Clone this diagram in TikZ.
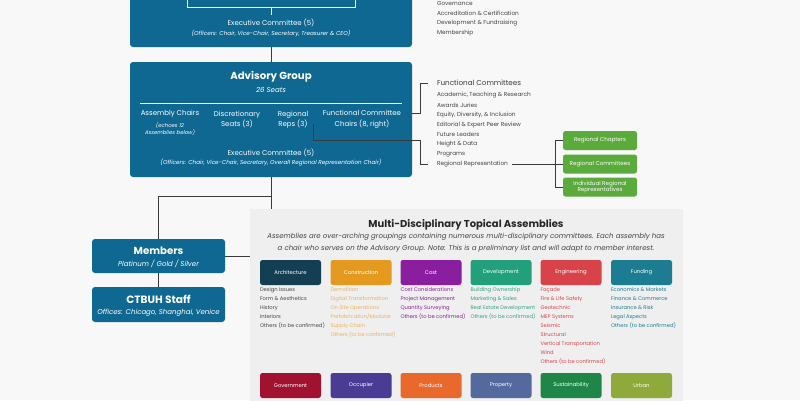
\documentclass[tikz,border=0pt]{standalone}
\usepackage{fontspec}
\setmainfont{Poppins}
\definecolor{bgc}{HTML}{F8F8F8}
\definecolor{panelc}{HTML}{EFEFEF}
\definecolor{ctblue}{HTML}{0E6891}
\definecolor{linec}{HTML}{3A3A3A}
\definecolor{txtc}{HTML}{444444}
\definecolor{greenc}{HTML}{5BAA3C}
\definecolor{archc}{HTML}{143F52}
\definecolor{archt}{HTML}{444444}
\definecolor{constrc}{HTML}{E49A1E}
\definecolor{constrt}{HTML}{EBB25A}
\definecolor{costc}{HTML}{8B1E9E}
\definecolor{costt}{HTML}{8B1E9E}
\definecolor{develc}{HTML}{21A07B}
\definecolor{develt}{HTML}{2FA384}
\definecolor{enginc}{HTML}{D8434A}
\definecolor{engint}{HTML}{D8434A}
\definecolor{fundc}{HTML}{1C7C91}
\definecolor{fundt}{HTML}{1C7C91}
\definecolor{govc}{HTML}{A0122F}
\definecolor{occc}{HTML}{4A3C94}
\definecolor{prodc}{HTML}{E8692B}
\definecolor{propc}{HTML}{546A9E}
\definecolor{sustc}{HTML}{1E8748}
\definecolor{urbc}{HTML}{8FAA3B}
\newcommand\fsz[2]{\fontsize{#1}{#2}\selectfont}
\tikzset{
  bluebox/.style={fill=ctblue, rounded corners=3pt, draw=none},
  greenbox/.style={fill=greenc, rounded corners=2.5pt, minimum width=74pt, minimum height=19pt, text=white, font=\fsz{5.6}{6.6}, align=center},
  conn/.style={draw=linec, line width=0.8pt},
  wconn/.style={draw=white, line width=0.7pt},
  wtitle/.style={text=white, font=\bfseries\fsz{10.2}{12}},
  wsub/.style={text=white, font=\itshape\fsz{5.7}{6.7}},
  wmid/.style={text=white, font=\fsz{7}{10.5}, align=center},
  listtxt/.style={text=txtc, font=\fsz{5.8}{6.8}, anchor=west},
  asmbox/.style={rounded corners=2.5pt, minimum width=61pt, minimum height=25pt, text=white, font=\fsz{5.3}{6}},
  asmitems/.style={anchor=north west, align=left, font=\fsz{5.2}{9}},
}
\begin{document}
\begin{tikzpicture}[x=1pt,y=-1pt, every node/.style={inner sep=0pt, outer sep=0pt}]
\path[use as bounding box, fill=bgc] (0,0) rectangle (800,400);
\clip (0,0) rectangle (800,400);

% ---------- top board box ----------
\node[bluebox, minimum width=282pt, minimum height=75pt] (top) at (271,9.5) {};
\node[draw=white, line width=0.8pt, minimum width=168pt, minimum height=30pt] (inner) at (271,-8) {};
\coordinate (ttick) at (271,15);
\draw[wconn] (inner.south) -- (ttick);
\node[wmid] (texec) at (271,23) {Executive Committee (5)};
\node[wsub] (toff) at (271,34) {(Officers: Chair, Vice-Chair, Secretary, Treasurer \& CEO)};

% top list
\node[listtxt] (l1) at (437,3) {Governance};
\node[listtxt] (l2) at (437,13) {Accreditation \& Certification};
\node[listtxt] (l3) at (437,23) {Development \& Fundraising};
\node[listtxt] (l4) at (437,33) {Membership};

% ---------- advisory group ----------
\node[bluebox, minimum width=282pt, minimum height=115pt] (adv) at (271,119.5) {};
\node[wtitle] (advt) at (271,77) {Advisory Group};
\node[wsub, font=\itshape\fsz{7}{8}] (advs) at (271,90) {26 Seats};
\coordinate (sepl) at (140,103);
\coordinate (sepr) at (402,103);
\draw[wconn] (sepl) -- (sepr);
\node[wmid] (ac) at (170,114) {Assembly Chairs};
\node[text=white, font=\itshape\fsz{5.3}{7.5}, align=center] (acs) at (170,129) {(echoes 12\\Assemblies below)};
\node[wmid] (ds) at (237,119.5) {Discretionary\\Seats (3)};
\node[wmid] (rr) at (293,119.5) {Regional\\Reps (3)};
\node[wmid] (fc) at (362,119.5) {Functional Committee\\Chairs (8, right)};
\node[wmid] (aexec) at (271,153) {Executive Committee (5)};
\node[wsub] (aoff) at (271,163) {(Officers: Chair, Vice-Chair, Secretary, Overall Regional Representation Chair)};

\draw[conn] (top.south) -- (adv.north);

% functional committees list
\node[listtxt, text=linec, font=\fsz{7.2}{9}] (fch) at (437,83) {Functional Committees};
\node[listtxt] (f1) at (437,95) {Academic, Teaching \& Research};
\node[listtxt] (f2) at (437,105) {Awards Juries};
\node[listtxt] (f3) at (437,115) {Equity, Diversity, \& Inclusion};
\node[listtxt] (f4) at (437,125) {Editorial \& Expert Peer Review};
\node[listtxt] (f5) at (437,134.5) {Future Leaders};
\node[listtxt] (f6) at (437,144.5) {Height \& Data};
\node[listtxt] (f7) at (437,154.5) {Programs};
\node[listtxt] (f8) at (437,164) {Regional Representation};

\coordinate (fb1) at (420,83);
\coordinate (fb2) at (420,113);
\draw[conn] (adv.east |- fb2) -- (fb2) -- (fb1) -- ++(8,0);
\coordinate (rrs) at (313,124);
\coordinate (fb3) at (420,140);
\coordinate (fb4) at (420,164);
\draw[conn] (rrs) |- (fb3) -- (fb4) -- ++(8,0);

% regional green boxes
\node[greenbox] (gchap) at (600,140.5) {Regional Chapters};
\node[greenbox] (gcom) at (600,164) {Regional Committees};
\node[greenbox] (gind) at (600,187) {Individual Regional\\Representatives};
\coordinate (gv) at (555,164);
\draw[conn] ([xshift=4pt]f8.east) -- (gcom.west);
\draw[conn] (gchap.west) -- (gchap.west -| gv) -- (gind.west -| gv) -- (gind.west);

% ---------- assemblies panel ----------
\node[fill=panelc, minimum width=433pt, minimum height=200pt, anchor=north west] (panel) at (250,209) {};
\node[text=black!85, font=\bfseries\fsz{10}{12}] (pt) at (466,225) {Multi-Disciplinary Topical Assemblies};
\node[text=txtc, font=\itshape\fsz{7}{12}, align=center] (ps) at (466,243) {Assemblies are over-arching groupings containing numerous multi-disciplinary committees. Each assembly has\\a chair who serves on the Advisory Group. Note: This is a preliminary list and will adapt to member interest.};

% ---------- members / staff ----------
\node[bluebox, minimum width=133pt, minimum height=34pt] (mem) at (158.5,256) {};
\node[wtitle] (memt) at (158.5,251) {Members};
\node[wsub, font=\itshape\fsz{7}{8}] (mems) at (158.5,264) {Platinum / Gold / Silver};
\node[bluebox, minimum width=133pt, minimum height=35pt] (staff) at (158.5,304.5) {};
\node[wtitle, font=\bfseries\fsz{10.6}{12}] (stt) at (158.5,299) {CTBUH Staff};
\node[wsub, font=\itshape\fsz{7}{8}] (sts) at (158.5,313) {Offices: Chicago, Shanghai, Venice};

\coordinate (j1) at (271,196);
\draw[conn] (adv.south) -- (adv.south |- panel.north);
\draw[conn] (j1) -| (mem.north);
\draw[conn] (mem.south) -- (staff.north);
\draw[conn] (mem.east) -- (mem.east -| panel.west);

% assembly boxes row 1
\foreach \nm/\lab/\col/\tcol/\cx/\items in {
  arch/Architecture/archc/archt/290.5/{Design Issues\\Form \& Aesthetics\\History\\Interiors\\Others (to be confirmed)},
  constr/Construction/constrc/constrt/361/{Demolition\\Digital Transformation\\On Site Operations\\Prefabrication/Modular\\Supply Chain\\Others (to be confirmed)},
  cost/Cost/costc/costt/431/{Cost Considerations\\Project Management\\Quantity Surveying\\Others (to be confirmed)},
  devel/Development/develc/develt/501/{Building Ownership\\Marketing \& Sales\\Real Estate Development\\Others (to be confirmed)},
  engin/Engineering/enginc/engint/571/{Façade\\Fire \& Life Safety\\Geotechnic\\MEP Systems\\Seismic\\Structural\\Vertical Transportation\\Wind\\Others (to be confirmed)},
  fund/Funding/fundc/fundt/641.5/{Economics \& Markets\\Finance \& Commerce\\Insurance \& Risk\\Legal Aspects\\Others (to be confirmed)}} {
  \node[asmbox, fill=\col] (a-\nm) at (\cx,272.5) {\lab};
  \node[asmitems, text=\tcol] (i-\nm) at ([yshift=-3pt]a-\nm.south west) {\items};
}

% assembly boxes row 2
\foreach \nm/\lab/\col/\cx in {gov/Government/govc/290.5, occ/Occupier/occc/361, prod/Products/prodc/431, prop/Property/propc/501, sust/Sustainability/sustc/571, urb/Urban/urbc/641.5} {
  \node[asmbox, fill=\col] (b-\nm) at (\cx,385.5) {\lab};
}
\end{tikzpicture}
\end{document}
